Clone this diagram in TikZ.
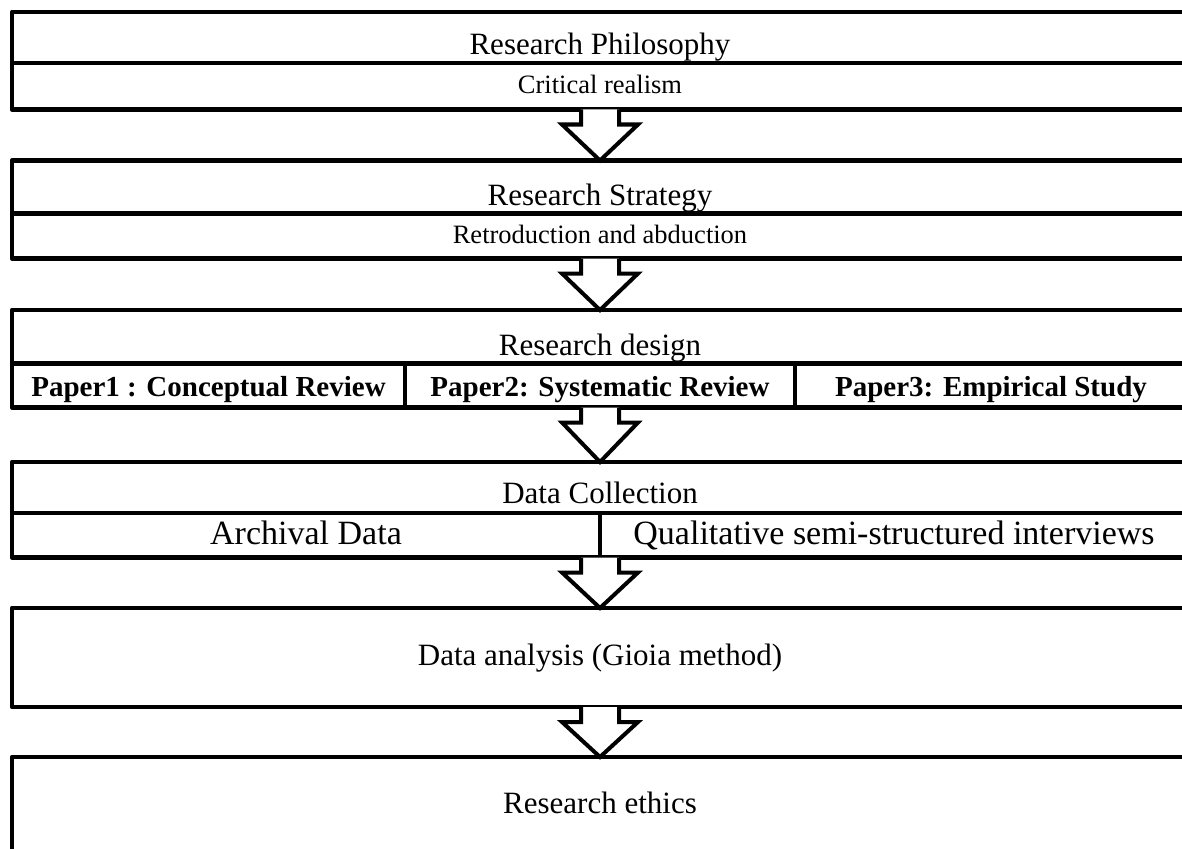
\documentclass[tikz,border=0pt]{standalone}
\usepackage{fontspec}
\setmainfont{Liberation Serif}
\usetikzlibrary{calc}
\begin{document}
\begin{tikzpicture}[x=1pt,y=-1pt,
  cell/.style={draw=black, line width=4.5pt, line join=round, inner sep=0pt,
    outer sep=0pt, anchor=north west, rectangle},
  title/.style={anchor=base, inner sep=0pt, font=\fontsize{31}{36}\selectfont},
  subtext/.style={anchor=base, inner sep=0pt, font=\fontsize{26.5}{31}\selectfont},
  papertext/.style={anchor=base, inner sep=0pt, font=\bfseries\fontsize{29}{34}\selectfont},
  bigtext/.style={anchor=base, inner sep=0pt, font=\fontsize{34}{40}\selectfont},
  blockarrow/.style={draw=black, fill=white, line width=4pt, line join=miter,
    to path={($(\tikztostart)+(-19,0)$) -- ++(0,15) -- ++(-19,0) -- (\tikztotarget)
      -- ($(\tikztostart)+(38,15)$) -- ++(-19,0) -- ++(0,-15)}}]
\clip (0,0) rectangle (1182,848);
\fill[white] (0,0) rectangle (1182,848);

% Research philosophy
\node[cell, minimum width=1176pt, minimum height=51pt] (r1t) at (12,12) {};
\node[cell, minimum width=1176pt, minimum height=46.5pt] (r1b) at (12,63) {};
\node[title] (t1) at (600,55) {Research Philosophy};
\node[subtext] (s1) at (600,94) {Critical realism};

% Research strategy
\node[cell, minimum width=1176pt, minimum height=53pt] (r2t) at (12,160.5) {};
\node[cell, minimum width=1176pt, minimum height=45pt] (r2b) at (12,213.5) {};
\node[title] (t2) at (600,205) {Research Strategy};
\node[subtext] (s2) at (600,243) {Retroduction and abduction};

% Research design with the three papers
\node[cell, minimum width=1176pt, minimum height=53.5pt] (r3t) at (12,310) {};
\node[cell, minimum width=393pt, minimum height=44pt] (p1) at (12,363.5) {};
\node[cell, minimum width=390pt, minimum height=44pt] (p2) at (405,363.5) {};
\node[cell, minimum width=393pt, minimum height=44pt] (p3) at (795,363.5) {};
\node[title] (t3) at (600,355) {Research design};
\node[papertext] (pt1) at (208.5,396.5) {Paper1 : Conceptual Review};
\node[papertext] (pt2) at (600,396.5) {Paper2: Systematic Review};
\node[papertext] (pt3) at (991,396.5) {Paper3: Empirical Study};

% Data collection
\node[cell, minimum width=1176pt, minimum height=51pt] (r4t) at (12,462) {};
\node[cell, minimum width=588pt, minimum height=44.5pt] (c1) at (12,513) {};
\node[cell, minimum width=588pt, minimum height=44.5pt] (c2) at (600,513) {};
\node[title] (t4) at (600,503) {Data Collection};
\node[bigtext] (ct1) at (306,544.5) {Archival Data};
\node[bigtext] (ct2) at (894,544.5) {Qualitative semi-structured interviews};

% Data analysis
\node[cell, minimum width=1176pt, minimum height=99pt] (r5) at (12,608) {};
\node[title] (t5) at (600,665) {Data analysis (Gioia method)};

% Research ethics
\node[cell, minimum width=1176pt, minimum height=160pt] (r6) at (12,757) {};
\node[title] (t6) at (600,813) {Research ethics};

% Block arrows between the stages
\path[blockarrow] (r1b.south) to (r2t.north);
\path[blockarrow] (r2b.south) to (r3t.north);
\path[blockarrow] (p2.south) to (r4t.north);
\path[blockarrow] (c1.south east) to (r5.north);
\path[blockarrow] (r5.south) to (r6.north);
\end{tikzpicture}
\end{document}
